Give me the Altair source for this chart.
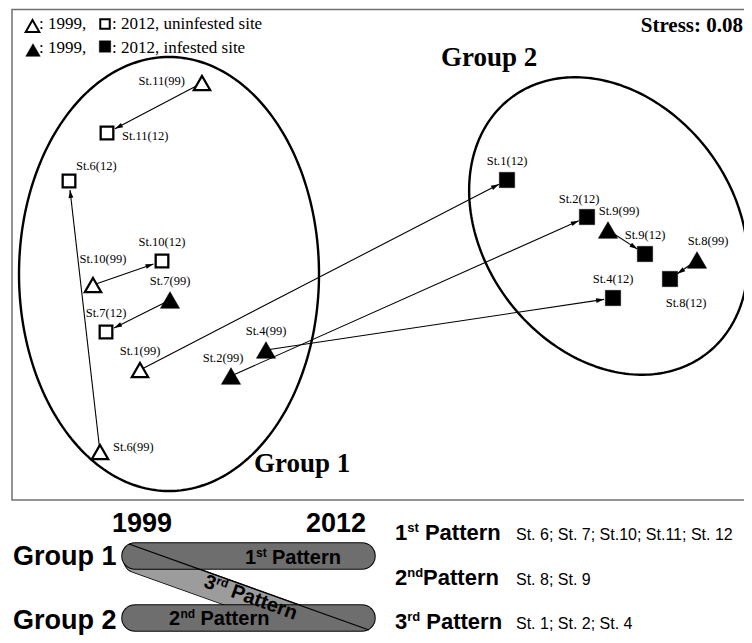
import math
import altair as alt
import numpy as np
import pandas as pd

# ---------------- data (NMDS ordination, arbitrary units) ----------------
stations = ["St.1", "St.2", "St.4", "St.6", "St.7", "St.8", "St.9", "St.10", "St.11"]
nmds1_1999 = [-0.960, -0.596, -0.456, -1.120, -0.840, 1.268, 0.912, -1.148, -0.712]
nmds2_1999 = [-0.420, -0.444, -0.340, -0.748, -0.140, 0.020, 0.140, -0.080, 0.728]
nmds1_2012 = [0.508, 0.828, 0.932, -1.244, -1.096, 1.160, 1.060, -0.872, -1.092]
nmds2_2012 = [0.340, 0.192, -0.132, 0.336, -0.268, -0.056, 0.044, 0.016, 0.528]
infested_1999 = [False, True, True, False, True, True, True, False, False]
infested_2012 = [True, True, True, False, False, True, True, False, False]
label_side_1999 = ["N", "NL", "N", "EN", "N", "NR", "NR", "NRR", "W"]
label_side_2012 = ["N", "NL", "N", "NE", "N", "SE", "N", "N", "E"]

groups = ["Group 1", "Group 2"]
ell_cx = [-0.844, 0.914]
ell_cy = [-0.036, 0.156]
ell_a = [0.868, 0.644]
ell_b = [0.600, 0.500]
ell_angle = [90.0, -52.6]

stress_text = "Stress: 0.08"
pattern_members = ["St. 6; St. 7; St.10; St.11; St. 12", "St. 8; St. 9", "St. 1; St. 2; St. 4"]

# ---------------- layout helpers ----------------
W, H = 736, 627
OX, OY = 8, 8           # page offset of plot origin
PX = 250.0              # pixels per NMDS unit
XDOM = [(8 - 380) / PX, (744 - 380) / PX]
YDOM = [(265 - 635) / PX, (265 - 8) / PX]
SERIF = "Liberation Serif"
SANS = "Liberation Sans"


def X(f):
    return alt.X(f, type="quantitative", scale=alt.Scale(domain=XDOM, nice=False, zero=False), axis=None)


def Y(f):
    return alt.Y(f, type="quantitative", scale=alt.Scale(domain=YDOM, nice=False, zero=False), axis=None)


label_offsets = {
    "N": (0, -19, "center"), "NL": (-8, -18, "center"), "NR": (11, -19, "center"),
    "NRR": (10, -26, "center"), "W": (-17, -2, "right"), "E": (15, 3, "left"),
    "EN": (13, -5, "left"), "NE": (7, -15, "left"), "SE": (16, 24, "center"),
}

rows = []
for yr, xs, ys, inf, sides in [("99", nmds1_1999, nmds2_1999, infested_1999, label_side_1999),
                                ("12", nmds1_2012, nmds2_2012, infested_2012, label_side_2012)]:
    for i, st in enumerate(stations):
        dx, dy, al = label_offsets[sides[i]]
        rows.append(dict(x=xs[i], y=ys[i], year=yr, infested=inf[i], label=f"{st}({yr})",
                         lx=xs[i] + dx / PX, ly=ys[i] - dy / PX, align=al))
pts = pd.DataFrame(rows)

arr_rows = []
for i, st in enumerate(stations):
    x0, y0 = nmds1_1999[i], nmds2_1999[i]
    x1, y1 = nmds1_2012[i], nmds2_2012[i]
    L = math.hypot(x1 - x0, y1 - y0)
    ux, uy = (x1 - x0) / L, (y1 - y0) / L
    tx, ty = x1 - ux * 9 / PX, y1 - uy * 9 / PX
    hx, hy = tx - ux * 4 / PX, ty - uy * 4 / PX
    ang = math.degrees(math.atan2(ux, uy)) % 360
    arr_rows.append(dict(x=x0, y=y0, x2=tx, y2=ty, hx=hx, hy=hy, angle=ang))
arrows = pd.DataFrame(arr_rows)

t = np.linspace(0, 2 * np.pi, 241)
ell_frames = []
for g, cx, cy, a, b, ang in zip(groups, ell_cx, ell_cy, ell_a, ell_b, ell_angle):
    p = np.radians(ang)
    ex = cx + a * np.cos(t) * np.cos(p) - b * np.sin(t) * np.sin(p)
    ey = cy + a * np.cos(t) * np.sin(p) + b * np.sin(t) * np.cos(p)
    ell_frames.append(pd.DataFrame(dict(x=ex, y=ey, group=g, order=np.arange(len(t)))))
ell = pd.concat(ell_frames, ignore_index=True)

one = pd.DataFrame({"k": [0]})


def txt(s, px, py, size, font=SANS, weight="normal", align="left", baseline="alphabetic", angle=None):
    m = dict(text=s, font=font, fontSize=size, fontWeight=weight, align=align,
             baseline=baseline, color="black")
    if angle is not None:
        m["angle"] = angle
    return alt.Chart(one).mark_text(**m).encode(x=alt.value(px - OX), y=alt.value(py - OY))


def seg(x0, y0, x1, y1, color, width, cap="round"):
    return alt.Chart(one).mark_rule(color=color, strokeWidth=width, strokeCap=cap).encode(
        x=alt.value(x0 - OX), y=alt.value(y0 - OY), x2=alt.value(x1 - OX), y2=alt.value(y1 - OY))


def sym(px, py, shape, size, filled_black):
    if filled_black:
        mk = alt.Chart(one).mark_point(shape=shape, size=size, filled=True, fill="black", stroke="black",
                                       strokeWidth=0.5, opacity=1)
    else:
        mk = alt.Chart(one).mark_point(shape=shape, size=size, filled=True, fill="white", stroke="black",
                                       strokeWidth=2, opacity=1)
    return mk.encode(x=alt.value(px - OX), y=alt.value(py - OY))


layers = []

# frame
layers.append(alt.Chart(one).mark_rect(fillOpacity=0, stroke="#707070", strokeWidth=1.5).encode(
    x=alt.value(12 - OX), x2=alt.value(770), y=alt.value(9.5 - OY), y2=alt.value(500 - OY)))

# ellipses
layers.append(alt.Chart(ell).mark_line(color="black", strokeWidth=2.4).encode(
    x=X("x"), y=Y("y"), detail="group:N", order="order:Q"))

# arrows
layers.append(alt.Chart(arrows).mark_rule(color="black", strokeWidth=1.1).encode(
    x=X("x"), y=Y("y"), x2="x2:Q", y2="y2:Q"))
layers.append(alt.Chart(arrows).mark_point(shape="M0,-1L0.6,1L-0.6,1Z", size=64, filled=True,
                                           color="black", opacity=1).encode(
    x=X("hx"), y=Y("hy"), angle=alt.Angle("angle:Q", scale=None)))

# markers
base = alt.Chart(pts)
layers.append(base.transform_filter("datum.year == '99' && !datum.infested").mark_point(
    shape="triangle-up", size=270, filled=True, fill="white", stroke="black", strokeWidth=2.2, opacity=1
).encode(x=X("x"), y=Y("y")))
layers.append(base.transform_filter("datum.year == '99' && datum.infested").mark_point(
    shape="triangle-up", size=370, filled=True, fill="black", stroke="black", strokeWidth=0.5, opacity=1
).encode(x=X("x"), y=Y("y")))
layers.append(base.transform_filter("datum.year == '12' && !datum.infested").mark_point(
    shape="square", size=160, filled=True, fill="white", stroke="black", strokeWidth=2.3, opacity=1
).encode(x=X("x"), y=Y("y")))
layers.append(base.transform_filter("datum.year == '12' && datum.infested").mark_point(
    shape="square", size=235, filled=True, fill="black", stroke="black", strokeWidth=0.5, opacity=1
).encode(x=X("x"), y=Y("y")))

# point labels
for al in ["center", "left", "right"]:
    layers.append(base.transform_filter(f"datum.align == '{al}'").mark_text(
        font=SERIF, fontSize=12.5, align=al, baseline="middle", color="black"
    ).encode(x=X("lx"), y=Y("ly"), text="label:N"))

# legend (top-left)
layers.append(sym(32.5, 26, "triangle-up", 185, False))
layers.append(txt(": 1999,", 39, 29, 17, font=SERIF))
layers.append(sym(105, 24, "square", 90, False))
layers.append(txt(": 2012, uninfested site", 112, 29, 17, font=SERIF))
layers.append(sym(33, 50, "triangle-up", 210, True))
layers.append(txt(": 1999,", 39, 53, 17, font=SERIF))
layers.append(sym(105, 46.5, "square", 130, True))
layers.append(txt(": 2012, infested site", 112, 53, 17, font=SERIF))

# stress and group titles
layers.append(txt(stress_text, 743, 32, 21, font=SERIF, weight="bold", align="right"))
layers.append(txt(groups[1], 441, 66, 27, font=SERIF, weight="bold"))
layers.append(txt(groups[0], 254, 472, 27, font=SERIF, weight="bold"))

# ---------------- bottom schematic ----------------
SH = 8
# diagonal (3rd pattern) band: its upper edge is the black diagonal line
L0 = (129.0, 552.0 - SH)
L1 = (369.0, 638.0 - SH)
dl = math.hypot(L1[0] - L0[0], L1[1] - L0[1])
ux, uy = (L1[0] - L0[0]) / dl, (L1[1] - L0[1]) / dl
nx, ny = -uy, ux            # normal pointing down-left
HW = 12.5
A = (L0[0] + HW * nx + HW * ux, L0[1] + HW * ny + HW * uy)
B = (L1[0] + HW * nx - HW * ux, L1[1] + HW * ny - HW * uy)
layers.append(seg(A[0], A[1], B[0], B[1], "black", 2 * HW + 1.5))
layers.append(seg(A[0], A[1], B[0], B[1], "#9c9c9c", 2 * HW))
# the band ends at the lower bar: blank out what would stick out below it
layers.append(alt.Chart(one).mark_rect(fill="white", stroke=None).encode(
    x=alt.value(240 - OX), x2=alt.value(400 - OX), y=alt.value(626 + 6.4 - SH - OY), y2=alt.value(660)))
for yc in [564 - SH, 626 - SH]:
    layers.append(seg(135, yc, 362, yc, "black", 27.5))
    layers.append(seg(135, yc, 362, yc, "#6e6e6e", 25.5))
layers.append(seg(L0[0], L0[1], L1[0], L1[1], "black", 1.2, cap="butt"))

layers.append(txt("1999", 142, 540 - SH, 27, weight="bold", align="center"))
layers.append(txt("2012", 336, 540 - SH, 27, weight="bold", align="center"))
layers.append(txt(groups[0], 13, 573 - SH, 27, weight="bold"))
layers.append(txt(groups[1], 13, 637 - SH, 27, weight="bold"))

# labels inside bars
layers.append(txt("1", 245, 572 - SH, 20, weight="bold"))
layers.append(txt("st", 256, 565 - SH, 12, weight="bold"))
layers.append(txt("Pattern", 272, 572 - SH, 20, weight="bold"))
layers.append(txt("2", 169, 633 - SH, 20, weight="bold"))
layers.append(txt("nd", 180.5, 626 - SH, 12, weight="bold"))
layers.append(txt("Pattern", 200.5, 633 - SH, 20, weight="bold"))

# rotated "3rd Pattern" laid inside the band, just under the diagonal line
ang_deg = math.degrees(math.atan2(uy, ux))
upx, upy = uy, -ux          # "up" direction of rotated text
cxm = 251.0
cym = L0[1] + (cxm - L0[0]) * uy / ux + 9.0
bx, by = cxm - 7 * upx, cym - 7 * upy            # baseline centre
sx, sy = bx - 48.8 * ux, by - 48.8 * uy          # baseline start
layers.append(txt("3", sx, sy, 20, weight="bold", angle=ang_deg))
layers.append(txt("rd", sx + 11.1 * ux + 7 * upx, sy + 11.1 * uy + 7 * upy, 12, weight="bold", angle=ang_deg))
layers.append(txt("Pattern", sx + 28.7 * ux, sy + 28.7 * uy, 20, weight="bold", angle=ang_deg))

# right-hand key
key_rows = [("1", "st", True, 548 - SH), ("2", "nd", False, 593 - SH), ("3", "rd", True, 637 - SH)]
sup_w = {"st": 11.6, "nd": 15.9, "rd": 13.0}
for (num, sup, space, yb), members in zip(key_rows, pattern_members):
    layers.append(txt(num, 395, yb, 22, weight="bold"))
    layers.append(txt(sup, 407.2, yb - 8, 13, weight="bold"))
    px = 407.2 + sup_w[sup] + (6.1 if space else 0.0)
    layers.append(txt("Pattern", px, yb, 22, weight="bold"))
    layers.append(txt(members, 516, yb, 16))

chart = alt.layer(*layers).properties(
    width=W, height=H, autosize=alt.AutoSizeParams(type="none"), padding=0
).configure_view(stroke=None)

chart.save("out.html", embed_options={"renderer": "svg", "actions": False})
